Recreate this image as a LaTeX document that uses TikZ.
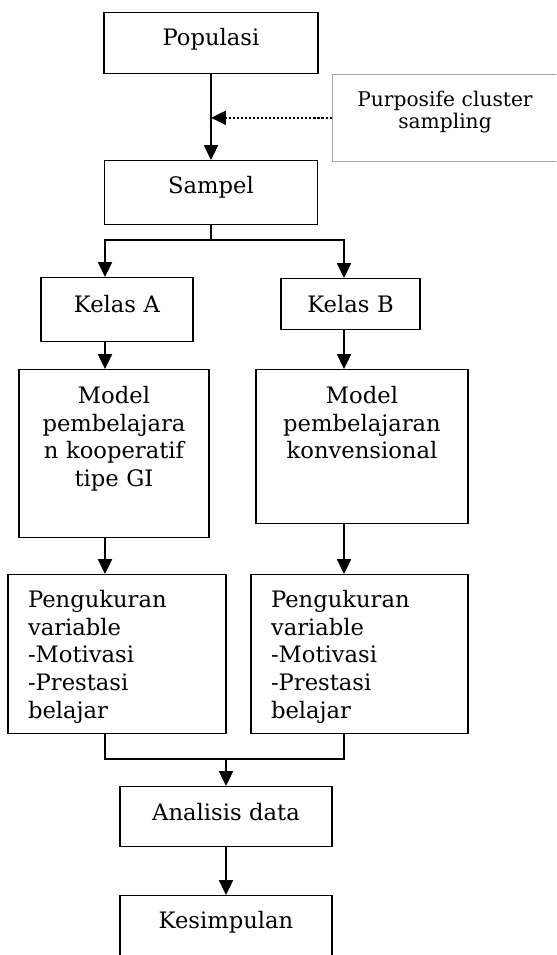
\documentclass[tikz,border=0pt]{standalone}
\usepackage{fontspec}
\setmainfont{DejaVu Serif}
\usetikzlibrary{arrows.meta}

\begin{document}
\begin{tikzpicture}[x=0.02cm, y=-0.02cm,
  box/.style={draw, line width=0.8pt, anchor=north, inner xsep=0.4cm, inner ysep=0pt,
    align=center, font=\fontsize{12.9pt}{15.7pt}\selectfont},
  link/.style={line width=1.1pt},
  arr/.style={line width=1.1pt, -{Triangle[length=8.5pt,width=8pt]}},
  dotarr/.style={line width=1pt, dash pattern=on 1.2pt off 1.1pt, -{Triangle[length=8.5pt,width=8pt]}}]
  \path[use as bounding box] (0,0) rectangle (556,955);
  \clip (0,0) rectangle (556,955);
  % Top part
  \node[box, text width=3.48cm, text height=0.66cm, text depth=0.56cm] (populasi) at (211,12) {Populasi};
  \node[box, text width=3.46cm, text height=0.66cm, text depth=0.62cm] (sampel) at (211,160) {Sampel};
  \node[box, draw=gray!70, line width=0.4pt, text width=3.72cm, text height=0.64cm, text depth=1.10cm,
    font=\fontsize{11.5pt}{12.5pt}\selectfont] (teknik) at (445,74) {Purposife cluster\\sampling};
  % Two classes
  \node[box, text width=2.24cm, text height=0.70cm, text depth=0.58cm] (kelasA) at (117,277) {Kelas A};
  \node[box, text width=1.98cm, text height=0.68cm, text depth=0.34cm] (kelasB) at (350.5,278) {Kelas B};
  \node[box, text width=3.00cm, text height=0.68cm, text depth=2.68cm] (modelA) at (114,369)
    {Model\\pembelajara\\n kooperatif\\tipe GI};
  \node[box, text width=3.44cm, text height=0.68cm, text depth=2.40cm] (modelB) at (362,369)
    {Model\\pembelajaran\\konvensional};
  \node[box, align=left, text width=3.56cm, text height=0.66cm, text depth=2.52cm] (ukurA) at (117,574)
    {Pengukuran\\variable\\-Motivasi\\-Prestasi\\belajar};
  \node[box, align=left, text width=3.54cm, text height=0.66cm, text depth=2.52cm] (ukurB) at (359.5,574)
    {Pengukuran\\variable\\-Motivasi\\-Prestasi\\belajar};
  % Bottom part
  \node[box, text width=3.44cm, text height=0.68cm, text depth=0.52cm] (analisis) at (226,786) {Analisis data};
  \node[box, text width=3.44cm, text height=0.66cm, text depth=2.00cm] (simpulan) at (226,895) {Kesimpulan};
  % Connectors
  \coordinate (colA) at (105,0);
  \coordinate (colB) at (344,0);
  \draw[arr] (populasi.south) -- (sampel.north);
  \draw[dotarr] (teknik.west) -- (teknik.west -| populasi.south);
  \draw[link] (sampel.south) -- ++(0,15) coordinate (fork);
  \draw[arr] (fork) -| (kelasA.north -| colA);
  \draw[arr] (fork) -| (kelasB.north -| colB);
  \draw[arr] (kelasA.south -| colA) -- (modelA.north -| colA);
  \draw[arr] (kelasB.south -| colB) -- (modelB.north -| colB);
  \draw[arr] (modelA.south -| colA) -- (ukurA.north -| colA);
  \draw[arr] (modelB.south -| colB) -- (ukurB.north -| colB);
  \draw[link] (ukurA.south -| colA) -- ++(0,25) coordinate (join) -- (join -| colB) -- (ukurB.south -| colB);
  \draw[arr] (join -| analisis.north) -- (analisis.north);
  \draw[arr] (analisis.south) -- (simpulan.north);
\end{tikzpicture}
\end{document}
